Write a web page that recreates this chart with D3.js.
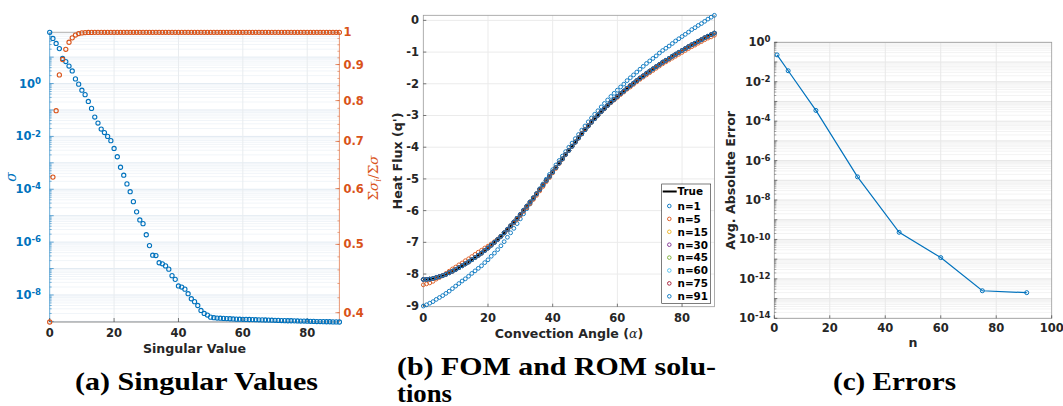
<!DOCTYPE html>
<html>
<head>
<meta charset="utf-8">
<script src="https://cdn.jsdelivr.net/npm/d3@7"></script>
<style>
  body { margin: 0; background: #fff; }
  svg { display: block; }
</style>
</head>
<body>
<div class="figure"></div>
<script>
var width = 1063;
var height = 406;

// ---- (a) singular values ----
var svIndex = d3.range(91);
var sigma = [87, 51, 33, 21, 8.9, 6.8, 4.6, 3.0, 1.5, 0.95,
  0.56, 0.38, 0.21, 0.115, 0.054, 0.032, 0.019, 0.014, 0.010, 0.0069,
  3.5e-3, 1.7e-3, 6.8e-4, 3.4e-4, 1.6e-4, 8.1e-5, 3.4e-5, 1.4e-5, 6.9e-6, 5.0e-6,
  1.9e-6, 7.4e-7, 3.2e-7, 3.1e-7, 1.66e-7, 1.51e-7, 1.26e-7, 9.5e-8, 5.4e-8, 3.9e-8,
  2.2e-8, 2.0e-8, 1.66e-8, 1.12e-8, 7.2e-9, 5.6e-9, 4.0e-9, 2.6e-9, 2.0e-9, 1.74e-9,
  1.45e-9, 1.38e-9, 1.34e-9, 1.32e-9, 1.30e-9, 1.28e-9, 1.26e-9, 1.24e-9, 1.22e-9, 1.21e-9,
  1.20e-9, 1.19e-9, 1.18e-9, 1.17e-9, 1.16e-9, 1.15e-9, 1.14e-9, 1.13e-9, 1.12e-9, 1.11e-9,
  1.10e-9, 1.09e-9, 1.08e-9, 1.07e-9, 1.06e-9, 1.06e-9, 1.05e-9, 1.04e-9, 1.03e-9, 1.03e-9,
  1.02e-9, 1.01e-9, 1.00e-9, 0.99e-9, 0.99e-9, 0.98e-9, 0.97e-9, 0.97e-9, 0.96e-9, 0.96e-9,
  0.95e-9];
var sigmaRatio = [0.388, 0.623, 0.774, 0.870, 0.915, 0.946, 0.968, 0.982, 0.991, 0.996,
  0.998, 0.999, 0.9995, 0.9997, 0.9998, 0.9999, 1, 1, 1, 1,
  1, 1, 1, 1, 1, 1, 1, 1, 1, 1,
  1, 1, 1, 1, 1, 1, 1, 1, 1, 1,
  1, 1, 1, 1, 1, 1, 1, 1, 1, 1,
  1, 1, 1, 1, 1, 1, 1, 1, 1, 1,
  1, 1, 1, 1, 1, 1, 1, 1, 1, 1,
  1, 1, 1, 1, 1, 1, 1, 1, 1, 1,
  1, 1, 1, 1, 1, 1, 1, 1, 1, 1,
  1];
var ratioTicks = [0.4, 0.5, 0.6, 0.7, 0.8, 0.9, 1];

// ---- (b) FOM and ROM solutions ----
var angles = d3.range(91);
var fluxTrue = [-8.17,-8.17,-8.16,-8.14,-8.11,-8.08,-8.05,-8.01,-7.96,-7.91,
  -7.86,-7.80,-7.74,-7.68,-7.62,-7.55,-7.48,-7.41,-7.34,-7.26,
  -7.18,-7.09,-7.00,-6.91,-6.81,-6.70,-6.59,-6.48,-6.36,-6.24,
  -6.12,-5.99,-5.86,-5.73,-5.60,-5.47,-5.33,-5.19,-5.05,-4.92,
  -4.78,-4.64,-4.50,-4.37,-4.23,-4.10,-3.97,-3.84,-3.71,-3.58,
  -3.45,-3.33,-3.21,-3.10,-2.99,-2.88,-2.78,-2.68,-2.58,-2.49,
  -2.40,-2.31,-2.23,-2.14,-2.06,-1.98,-1.90,-1.82,-1.75,-1.67,
  -1.60,-1.53,-1.46,-1.39,-1.32,-1.26,-1.20,-1.13,-1.07,-1.01,
  -0.95,-0.89,-0.83,-0.77,-0.72,-0.66,-0.61,-0.55,-0.50,-0.45,
  -0.40];
var fluxN1 = [-9.01,-8.97,-8.92,-8.87,-8.80,-8.74,-8.68,-8.61,-8.54,-8.46,
  -8.38,-8.30,-8.22,-8.15,-8.07,-7.98,-7.90,-7.82,-7.74,-7.64,
  -7.55,-7.44,-7.34,-7.23,-7.11,-6.98,-6.84,-6.70,-6.56,-6.41,
  -6.26,-6.10,-5.94,-5.79,-5.63,-5.47,-5.31,-5.16,-5.01,-4.86,
  -4.71,-4.56,-4.42,-4.28,-4.14,-4.00,-3.87,-3.73,-3.60,-3.46,
  -3.33,-3.20,-3.08,-2.96,-2.85,-2.73,-2.62,-2.51,-2.40,-2.30,
  -2.20,-2.10,-2.01,-1.90,-1.81,-1.72,-1.63,-1.54,-1.45,-1.36,
  -1.28,-1.20,-1.12,-1.03,-0.95,-0.88,-0.81,-0.73,-0.65,-0.58,
  -0.51,-0.44,-0.37,-0.29,-0.23,-0.16,-0.10,-0.03,0.04,0.10,
  0.16];
var fluxN5 = [-8.34,-8.31,-8.28,-8.23,-8.16,-8.11,-8.05,-7.98,-7.91,-7.84,
  -7.78,-7.71,-7.65,-7.58,-7.52,-7.45,-7.38,-7.31,-7.25,-7.18,
  -7.12,-7.05,-6.98,-6.90,-6.81,-6.71,-6.61,-6.50,-6.39,-6.28,
  -6.16,-6.03,-5.91,-5.78,-5.65,-5.52,-5.38,-5.24,-5.09,-4.96,
  -4.81,-4.67,-4.52,-4.38,-4.24,-4.10,-3.96,-3.83,-3.70,-3.56,
  -3.43,-3.31,-3.19,-3.09,-2.98,-2.88,-2.79,-2.69,-2.60,-2.51,
  -2.43,-2.34,-2.26,-2.17,-2.10,-2.02,-1.94,-1.86,-1.79,-1.72,
  -1.65,-1.58,-1.51,-1.44,-1.37,-1.31,-1.25,-1.19,-1.13,-1.07,
  -1.01,-0.95,-0.89,-0.83,-0.78,-0.72,-0.67,-0.61,-0.56,-0.52,
  -0.47];
var romLabels = ["n=1", "n=5", "n=15", "n=30", "n=45", "n=60", "n=75", "n=91"];
// n>=15 sit on the true solution in the picture
var romSeries = [fluxN1, fluxN5, fluxTrue, fluxTrue, fluxTrue, fluxTrue, fluxTrue, fluxTrue];
var romColors = ["#0072BD", "#D95319", "#EDB120", "#7E2F8E", "#77AC30", "#4DBEEE", "#A2142F", "#0072BD"];

// ---- (c) errors ----
var errN = [1, 5, 15, 30, 45, 60, 75, 91];
var errVal = [0.23, 0.036, 3.5e-4, 1.5e-7, 2.3e-10, 1.2e-11, 2.5e-13, 2.0e-13];

var blue = "#0072BD", orange = "#D95319", ink = "#262626";
var tickFont = "DejaVu Sans, sans-serif";

var svg = d3.select(".figure").append("svg")
    .attr("width", width)
    .attr("height", height);

var supText = function(sel, base, exp){
  sel.append("tspan").text(base);
  sel.append("tspan").attr("dy", "-0.45em").attr("font-size", "0.75em").text(exp);
};

var hline = function(g, y, x0, x1, color, w){
  g.append("line").attr("x1", x0).attr("x2", x1).attr("y1", y).attr("y2", y)
    .attr("stroke", color).attr("stroke-width", w);
};
var vline = function(g, x, y0, y1, color, w){
  g.append("line").attr("x1", x).attr("x2", x).attr("y1", y0).attr("y2", y1)
    .attr("stroke", color).attr("stroke-width", w);
};

var logMinor = function(scale){
  var dom = scale.domain(), out = [];
  for (var k = -15; k <= 2; k++){
    for (var m = 2; m <= 9; m++){
      var v = m * Math.pow(10, k);
      if (v > dom[0] && v < dom[1]) out.push(v);
    }
  }
  return out;
};
var logMajor = function(scale){
  var dom = scale.domain(), out = [];
  for (var k = -15; k <= 2; k++){
    var v = Math.pow(10, k);
    if (v >= dom[0] * 0.999 && v <= dom[1] * 1.001) out.push(k);
  }
  return out;
};

var ylabel = function(g, x, y, txt, color){
  return g.append("text")
    .attr("transform", "translate(" + x + "," + y + ") rotate(-90)")
    .attr("text-anchor", "middle")
    .attr("font-family", tickFont).attr("font-weight", "bold")
    .attr("font-size", 12.6).attr("fill", color || ink)
    .text(txt);
};

// ================= panel (a) =================
var xA = d3.scaleLinear().domain([0, 90]).range([49.7, 339.4]);
var yAL = d3.scaleLog().domain([9.5e-10, 87]).range([322, 32.3]);
var yAR = d3.scaleLog().domain([0.388, 1]).range([322, 32.3]);
var ga = svg.append("g");

logMinor(yAL).forEach(function(v){ hline(ga, yAL(v), xA(0), xA(90), "#f1f5f9", 1); });
logMajor(yAL).forEach(function(k){ hline(ga, yAL(Math.pow(10, k)), xA(0), xA(90), "#e2eaf2", 1); });
[20, 40, 60, 80].forEach(function(v){ vline(ga, xA(v), yAL.range()[1], yAL.range()[0], "#e8ecef", 1); });

hline(ga, 32.3, xA(0), xA(90), "#b0b0b0", 1);
vline(ga, xA(0), 32.3, 322, blue, 0.6);
vline(ga, xA(90), 32.3, 322, orange, 0.6);
hline(ga, 322, xA(0), xA(90), "#8a8a8a", 1);

logMinor(yAL).forEach(function(v){ hline(ga, yAL(v), xA(0), xA(0) + 2, blue, 0.5); });
logMajor(yAL).forEach(function(k){
  var y = yAL(Math.pow(10, k));
  hline(ga, y, xA(0), xA(0) + 4, blue, 0.6);
  if (k % 2 === 0 && k <= 0){
    ga.append("text").attr("x", 41).attr("y", y + 4)
      .attr("text-anchor", "end").attr("font-family", tickFont)
      .attr("font-weight", "bold").attr("font-size", 11.5).attr("fill", blue)
      .call(supText, "10", String(k));
  }
});
d3.range(0.40, 1.0, 0.02).forEach(function(v){ hline(ga, yAR(v), xA(90) - 2, xA(90), orange, 0.5); });
ratioTicks.forEach(function(v){
  hline(ga, yAR(v), xA(90) - 4, xA(90), orange, 0.6);
  ga.append("text").attr("x", xA(90) + 4).attr("y", yAR(v) + 4)
    .attr("font-family", tickFont).attr("font-weight", "bold")
    .attr("font-size", 11.5).attr("fill", orange)
    .text(d3.format("")(v));
});
[0, 20, 40, 60, 80].forEach(function(v){
  vline(ga, xA(v), 318, 322, ink, 0.6);
  ga.append("text").attr("x", xA(v)).attr("y", 337).attr("text-anchor", "middle")
    .attr("font-family", tickFont).attr("font-weight", "bold")
    .attr("font-size", 11.5).attr("fill", ink).text(v);
});
ga.append("text").attr("x", 194.5).attr("y", 353).attr("text-anchor", "middle")
  .attr("font-family", tickFont).attr("font-weight", "bold")
  .attr("font-size", 12.6).attr("fill", ink).text("Singular Value");

ga.append("text").attr("transform", "translate(16,177) rotate(-90)")
  .attr("text-anchor", "middle").attr("font-family", "DejaVu Serif, serif")
  .attr("font-style", "italic").attr("font-size", 14).attr("fill", blue).text("σ");
var rl = ga.append("text").attr("transform", "translate(378,178) rotate(-90)")
  .attr("text-anchor", "middle").attr("font-family", "DejaVu Serif, serif")
  .attr("font-size", 13.5).attr("fill", orange);
rl.append("tspan").text("Σ");
rl.append("tspan").attr("font-style", "italic").text("σ");
rl.append("tspan").attr("font-style", "italic").attr("font-size", 9).attr("dy", 3).text("i");
rl.append("tspan").attr("dy", -3).text("/Σ");
rl.append("tspan").attr("font-style", "italic").text("σ");

ga.selectAll("circle.sv").data(svIndex).enter().append("circle")
  .attr("class", "sv")
  .attr("cx", function(d){ return xA(d); })
  .attr("cy", function(d){ return yAL(sigma[d]); })
  .attr("r", 2.1).attr("fill", "none").attr("stroke", blue).attr("stroke-width", 1.1);
ga.selectAll("circle.cr").data(svIndex).enter().append("circle")
  .attr("class", "cr")
  .attr("cx", function(d){ return xA(d); })
  .attr("cy", function(d){ return yAR(sigmaRatio[d]); })
  .attr("r", 2.1).attr("fill", "none").attr("stroke", orange).attr("stroke-width", 1.1);

// ================= panel (b) =================
var xB = d3.scaleLinear().domain([0, 90]).range([423.3, 714.4]);
var yB = d3.scaleLinear().domain([-9.03, 0.16]).range([306.7, 15.3]);
var gb = svg.append("g");

[20, 40, 60, 80].forEach(function(v){ vline(gb, xB(v), 15.3, 306.7, "#ebebeb", 1); });
d3.range(-8, 1).forEach(function(v){ hline(gb, yB(v), xB(0), xB(90), "#ebebeb", 1); });
gb.append("rect").attr("x", xB(0)).attr("y", 15.3)
  .attr("width", xB(90) - xB(0)).attr("height", 306.7 - 15.3)
  .attr("fill", "none").attr("stroke", "#9a9a9a").attr("stroke-width", 0.8);

d3.range(-9, 1).forEach(function(v){
  hline(gb, yB(v), xB(0), xB(0) + 3, ink, 0.6);
  gb.append("text").attr("x", 419).attr("y", yB(v) + 4).attr("text-anchor", "end")
    .attr("font-family", tickFont).attr("font-weight", "bold")
    .attr("font-size", 11.5).attr("fill", ink).text(d3.format("")(v).replace("−", "-"));
});
[0, 20, 40, 60, 80].forEach(function(v){
  vline(gb, xB(v), 303.7, 306.7, ink, 0.6);
  gb.append("text").attr("x", xB(v)).attr("y", 322).attr("text-anchor", "middle")
    .attr("font-family", tickFont).attr("font-weight", "bold")
    .attr("font-size", 11.5).attr("fill", ink).text(v);
});
var xl = gb.append("text").attr("x", 569).attr("y", 338).attr("text-anchor", "middle")
  .attr("font-family", tickFont).attr("font-weight", "bold")
  .attr("font-size", 12.6).attr("fill", ink);
xl.append("tspan").text("Convection Angle (");
xl.append("tspan").attr("font-family", "DejaVu Serif, serif").attr("font-style", "italic")
  .attr("font-weight", "normal").text("α");
xl.append("tspan").text(")");
ylabel(gb, 402, 161, "Heat Flux (q')");

var line = d3.line()
  .x(function(d){ return xB(d); })
  .y(function(d){ return yB(fluxTrue[d]); });
gb.append("path").datum(angles).attr("d", line)
  .attr("fill", "none").attr("stroke", "#000").attr("stroke-width", 2);

romSeries.forEach(function(series, i){
  gb.append("g").selectAll("circle").data(angles).enter().append("circle")
    .attr("cx", function(d){ return xB(d); })
    .attr("cy", function(d){ return yB(series[d]); })
    .attr("r", 1.9).attr("fill", "none")
    .attr("stroke", romColors[i]).attr("stroke-width", 0.9);
});

// legend
var lg = gb.append("g");
lg.append("rect").attr("x", 661.7).attr("y", 184).attr("width", 49).attr("height", 119.3)
  .attr("fill", "#fff").attr("stroke", ink).attr("stroke-width", 0.6);
lg.append("line").attr("x1", 662.7).attr("x2", 676.7).attr("y1", 191.5).attr("y2", 191.5)
  .attr("stroke", "#000").attr("stroke-width", 2);
lg.append("text").attr("x", 677.5).attr("y", 195.3)
  .attr("font-family", tickFont).attr("font-weight", "bold")
  .attr("font-size", 10.4).attr("fill", "#000").text("True");
romLabels.forEach(function(lab, i){
  var y = 206 + i * 12.9;
  lg.append("circle").attr("cx", 669.3).attr("cy", y).attr("r", 1.8)
    .attr("fill", "none").attr("stroke", romColors[i]).attr("stroke-width", 0.9);
  lg.append("text").attr("x", 677.5).attr("y", y + 3.8)
    .attr("font-family", tickFont).attr("font-weight", "bold")
    .attr("font-size", 10.4).attr("fill", "#000").text(lab);
});

// ================= panel (c) =================
var xC = d3.scaleLinear().domain([0, 100]).range([774.3, 1051.7]);
var yC = d3.scaleLog().domain([1e-14, 1]).range([318.3, 42.3]);
var gc = svg.append("g");

logMinor(yC).forEach(function(v){ hline(gc, yC(v), xC(0), xC(100), "#f3f3f3", 1); });
logMajor(yC).forEach(function(k){ hline(gc, yC(Math.pow(10, k)), xC(0), xC(100), "#e6e6e6", 1); });
[20, 40, 60, 80].forEach(function(v){ vline(gc, xC(v), 42.3, 318.3, "#e8e8e8", 1); });
gc.append("rect").attr("x", xC(0)).attr("y", 42.3)
  .attr("width", xC(100) - xC(0)).attr("height", 318.3 - 42.3)
  .attr("fill", "none").attr("stroke", "#9a9a9a").attr("stroke-width", 0.8);

logMinor(yC).forEach(function(v){ hline(gc, yC(v), xC(0), xC(0) + 2, ink, 0.4); });
logMajor(yC).forEach(function(k){
  var y = yC(Math.pow(10, k));
  hline(gc, y, xC(0), xC(0) + 3, ink, 0.6);
  if (k % 2 === 0){
    gc.append("text").attr("x", 770.5).attr("y", y + 4).attr("text-anchor", "end")
      .attr("font-family", tickFont).attr("font-weight", "bold")
      .attr("font-size", 11.5).attr("fill", ink)
      .call(supText, "10", String(k));
  }
});
[0, 20, 40, 60, 80, 100].forEach(function(v){
  vline(gc, xC(v), 315.3, 318.3, ink, 0.6);
  gc.append("text").attr("x", xC(v)).attr("y", 332).attr("text-anchor", "middle")
    .attr("font-family", tickFont).attr("font-weight", "bold")
    .attr("font-size", 11.5).attr("fill", ink).text(v);
});
gc.append("text").attr("x", 913).attr("y", 346.5).attr("text-anchor", "middle")
  .attr("font-family", tickFont).attr("font-weight", "bold")
  .attr("font-size", 12.6).attr("fill", ink).text("n");
ylabel(gc, 735, 180.3, "Avg. Absolute Error");

var errLine = d3.line()
  .x(function(d, i){ return xC(errN[i]); })
  .y(function(d){ return yC(d); });
gc.append("path").datum(errVal).attr("d", errLine)
  .attr("fill", "none").attr("stroke", blue).attr("stroke-width", 1.2);
gc.selectAll("circle").data(errVal).enter().append("circle")
  .attr("cx", function(d, i){ return xC(errN[i]); })
  .attr("cy", function(d){ return yC(d); })
  .attr("r", 2).attr("fill", "none").attr("stroke", blue).attr("stroke-width", 1);

// ================= captions =================
var caption = function(x, y, txt, len, anchor){
  svg.append("text").attr("x", x).attr("y", y)
    .attr("text-anchor", anchor || "start")
    .attr("font-family", "Liberation Serif, serif").attr("font-weight", "bold")
    .attr("font-size", 25).attr("fill", "#000")
    .attr("textLength", len).attr("lengthAdjust", "spacingAndGlyphs")
    .text(txt);
};
caption(75, 390, "(a) Singular Values", 243);
caption(397, 375, "(b) FOM and ROM solu-", 319);
caption(397, 402, "tions", 55);
caption(833, 390, "(c) Errors", 123);
</script>
</body>
</html>
